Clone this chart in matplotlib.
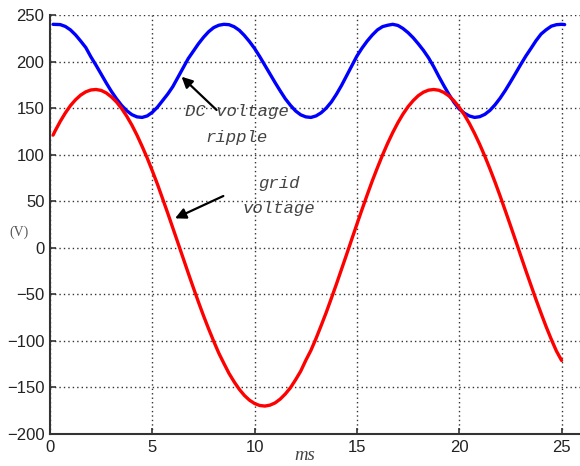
import matplotlib
matplotlib.use("Agg")
import matplotlib.pyplot as plt

# time (ms)
t = [0.15,
     0.25, 0.5, 0.75, 1.0,
     1.25, 1.5, 1.75, 2.0,
     2.25, 2.5, 2.75, 3.0,
     3.25, 3.5, 3.75, 4.0,
     4.25, 4.5, 4.75, 5.0,
     5.25, 5.5, 5.75, 6.0,
     6.25, 6.5, 6.75, 7.0,
     7.25, 7.5, 7.75, 8.0,
     8.25, 8.5, 8.75, 9.0,
     9.25, 9.5, 9.75, 10.0,
     10.25, 10.5, 10.75, 11.0,
     11.25, 11.5, 11.75, 12.0,
     12.25, 12.5, 12.75, 13.0,
     13.25, 13.5, 13.75, 14.0,
     14.25, 14.5, 14.75, 15.0,
     15.25, 15.5, 15.75, 16.0,
     16.25, 16.5, 16.75, 17.0,
     17.25, 17.5, 17.75, 18.0,
     18.25, 18.5, 18.75, 19.0,
     19.25, 19.5, 19.75, 20.0,
     20.25, 20.5, 20.75, 21.0,
     21.25, 21.5, 21.75, 22.0,
     22.25, 22.5, 22.75, 23.0,
     23.25, 23.5, 23.75, 24.0,
     24.25, 24.5, 24.75, 25.0]

# DC voltage ripple (V)
dc_voltage = [240,
              239.9, 239.7, 237.7, 234,
              228.6, 222, 215, 205,
              196, 186.5, 177, 168,
              160, 152.9, 147.2, 143,
              140.6, 140, 141.6, 145.5,
              151, 158, 165, 173,
              183, 193, 203, 211,
              219, 226, 232, 236.5,
              239, 240, 239.6, 237.4,
              233.6, 228, 221.4, 214,
              205.3, 196, 186.7, 177.4,
              168.5, 160, 153, 147,
              142.8, 140.6, 140, 141.6,
              145, 150, 156.6, 165,
              174.5, 185, 195.5, 206,
              214.5, 222, 228.5, 234,
              237.5, 239, 240, 238.8,
              235.5, 231, 225.5, 219,
              212, 204, 194.5, 184,
              174, 164.5, 156, 149,
              144.5, 141.5, 140, 140.8,
              143.3, 147.6, 153.6, 160.8,
              169, 178, 187.3, 196.7,
              205.8, 214, 222.4, 229.6,
              234.2, 238, 239.6, 240]
dc_end_t = 25.15
dc_end_v = 239.7

# grid voltage (V)
grid_voltage = [121,
                125.5, 135.7, 144.8, 152.7,
                159, 164, 167.5, 169.5,
                170, 169, 166.3, 162,
                156.6, 149.6, 141.3, 131.8,
                121, 109, 96.4, 82.6,
                68.3, 52.9, 37.4, 21.4,
                5.4, -10.7, -26.8, -42.6,
                -58, -72.9, -87, -100.4,
                -113.2, -124.3, -135, -144,
                -152, -158.6, -163.7, -167.3,
                -169.4, -170, -169, -166.6,
                -162.5, -157, -150.3, -141.8,
                -132.6, -120.9, -110.2, -97.4,
                -83.6, -69.4, -54.2, -38.8,
                -22.8, -6.8, 9.4, 25.5,
                41.3, 56.8, 71.9, 86,
                99.6, 112.2, 123.8, 134.3,
                143.6, 151.6, 158.1, 163.4,
                167.1, 169.3, 170, 169.2,
                166.8, 163, 157.6, 150.8,
                142.8, 133.3, 122.7, 111,
                98.3, 84.7, 70.4, 55.4,
                39.8, 24, 8, -8.2,
                -24.3, -40, -55.6, -70.5,
                -85, -98.5, -111, -121]

x_ticks = [0, 5, 10, 15, 20, 25]
y_ticks = [-200, -150, -100, -50, 0, 50, 100, 150, 200, 250]

fig = plt.figure(figsize=(5.8, 4.66), dpi=100)
ax = fig.add_axes([50/580, 32/466, 530/580, 419/466])

ax.plot(t + [dc_end_t], dc_voltage + [dc_end_v], color="#0000ff", lw=2.4,
        solid_capstyle="round", solid_joinstyle="round")
ax.plot(t, grid_voltage, color="#ff0000", lw=2.4,
        solid_capstyle="round", solid_joinstyle="round")

ax.set_xlim(0, 25.9)
ax.set_ylim(-200, 250)
ax.set_xticks(x_ticks)
ax.set_yticks(y_ticks)
ax.grid(True, linestyle=(0, (1, 2.2)), color="#333333", lw=1.0)

for s in ["top", "right"]:
    ax.spines[s].set_visible(False)
for s in ["left", "bottom"]:
    ax.spines[s].set_color("#333333")
    ax.spines[s].set_linewidth(1.5)

ax.tick_params(direction="in", length=4, width=1.2, color="#333333",
               labelsize=12, labelcolor="#222222", pad=4)
for lab in ax.get_xticklabels() + ax.get_yticklabels():
    lab.set_family("Liberation Sans")

mono = dict(family="Liberation Mono", style="italic", fontsize=12.5, color="#444444",
            ha="left", va="center")
ax.text(6.6, 146, "DC voltage", **mono)
ax.text(7.57, 118, "ripple", **mono)
ax.text(10.16, 69.5, "grid", **mono)
ax.text(9.43, 42.7, "voltage", **mono)

arrow = dict(arrowstyle="-|>", color="black", lw=1.6, mutation_scale=16, shrinkA=0, shrinkB=0)
ax.annotate("", xy=(6.43, 183.7), xytext=(8.14, 148), arrowprops=arrow)
ax.annotate("", xy=(6.11, 31.6), xytext=(8.47, 55.6), arrowprops=arrow)

fig.text(19/580, 1 - 232/466, "(V)", family="Liberation Serif", fontsize=10,
         color="#555555", ha="center", va="center")
fig.text(305/580, 1 - 456/466, "ms", family="Liberation Serif", style="italic",
         fontsize=13.5, color="#444444", ha="center", va="center")

fig.savefig("out.png", dpi=100)
